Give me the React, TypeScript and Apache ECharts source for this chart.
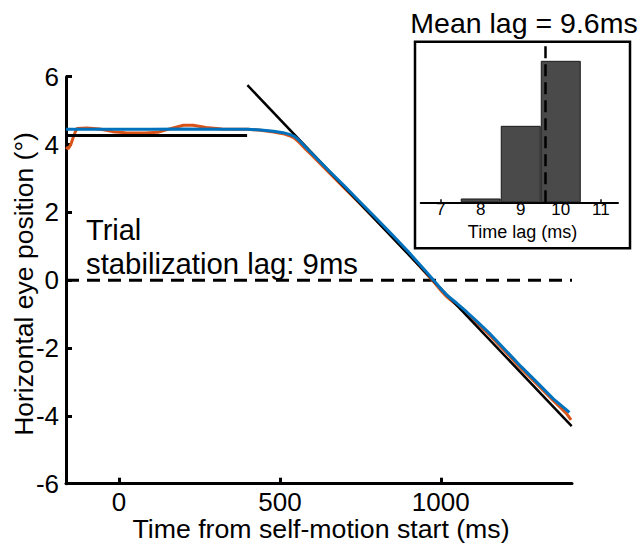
import React, { useEffect, useRef } from "react";
import * as echarts from "echarts";

const FONT = "'Liberation Sans', Arial, Helvetica, sans-serif";

// Main panel: time (ms) vs horizontal eye position (deg)
const xTickValues = [0, 500, 1000];

const blueTime = [-165, -100, 0, 100, 200, 300, 400, 440, 480, 510, 530, 545, 560, 580, 600, 650, 700, 750, 800, 850, 900, 950, 980, 1000, 1020, 1050, 1080, 1110, 1150, 1200, 1250, 1300, 1350, 1400];
const blueEye = [4.45, 4.45, 4.45, 4.45, 4.46, 4.45, 4.45, 4.43, 4.39, 4.35, 4.3, 4.24, 4.12, 3.92, 3.73, 3.25, 2.78, 2.3, 1.82, 1.33, 0.83, 0.3, -0.02, -0.25, -0.45, -0.68, -0.93, -1.19, -1.55, -2.05, -2.55, -3.02, -3.5, -3.9];

const orangeTime = [-165, -158, -150, -142, -135, -131, -100, -60, -20, 20, 80, 120, 160, 200, 230, 270, 320, 400, 440, 480, 510, 530, 545, 560, 580, 600, 650, 700, 750, 800, 850, 900, 950, 980, 1000, 1020, 1050, 1080, 1110, 1150, 1200, 1250, 1300, 1350, 1390, 1405];
const orangeEye = [3.92, 3.88, 4.0, 4.23, 4.4, 4.47, 4.49, 4.46, 4.38, 4.35, 4.34, 4.36, 4.47, 4.57, 4.57, 4.5, 4.46, 4.45, 4.42, 4.37, 4.32, 4.26, 4.19, 4.06, 3.86, 3.68, 3.2, 2.72, 2.25, 1.77, 1.28, 0.78, 0.25, -0.07, -0.3, -0.5, -0.73, -0.98, -1.24, -1.6, -2.1, -2.6, -3.07, -3.55, -3.92, -4.12];

const fitFlatTime = [-165, 398];
const fitFlatEye = [4.27, 4.27];
const fitSlopeTime = [399, 1407];
const fitSlopeEye = [5.75, -4.3];

const zeroTime = [-165, 1408];
const zeroEye = [0, 0];

// Inset histogram
const lagBins = [8, 9, 10];
const lagCounts = [1, 20, 37];
const lagTickValues = [7, 8, 9, 10, 11];
const meanLag = 9.6;

const zip = (xs: number[], ys: number[]) => xs.map((x, i) => [x, ys[i]]);

export default function App() {
  const ref = useRef<HTMLDivElement>(null);

  useEffect(() => {
    if (!ref.current) return;
    const chart = echarts.init(ref.current, undefined, { renderer: "svg" });

    const option: any = {
      animation: false,
      backgroundColor: "#ffffff",
      textStyle: { fontFamily: FONT, color: "#000" },
      grid: [
        { left: 66, right: 68, top: 76.7, bottom: 63.3, containLabel: false },
        { left: 420.7, width: 197.3, top: 41.7, height: 160.6, containLabel: false },
      ],
      xAxis: [
        {
          type: "value",
          gridIndex: 0,
          min: -165,
          max: 1408,
          axisLine: { show: true, onZero: false, lineStyle: { color: "#000", width: 3 } },
          axisTick: { show: true, inside: true, length: 6, customValues: xTickValues, lineStyle: { color: "#000", width: 3 } },
          axisLabel: {
            show: true,
            customValues: xTickValues,
            formatter: (v: number) => String(v),
            margin: 5,
            fontSize: 26,
            color: "#000",
            fontFamily: FONT,
          },
          splitLine: { show: false },
        },
        {
          type: "value",
          gridIndex: 1,
          min: 6.5,
          max: 11.43,
          axisLine: { show: true, onZero: false, lineStyle: { color: "#000", width: 2 } },
          axisTick: { show: true, inside: true, length: 3, customValues: lagTickValues, lineStyle: { color: "#000", width: 1.5 } },
          axisLabel: {
            show: true,
            customValues: lagTickValues,
            formatter: (v: number) => String(v),
            margin: -1,
            fontSize: 17,
            lineHeight: 16,
            color: "#000",
            fontFamily: FONT,
          },
          splitLine: { show: false },
        },
      ],
      yAxis: [
        {
          type: "value",
          gridIndex: 0,
          min: -6,
          max: 6,
          interval: 2,
          axisLine: { show: true, onZero: false, lineStyle: { color: "#000", width: 3 } },
          axisTick: { show: true, inside: true, length: 6, lineStyle: { color: "#000", width: 3 } },
          axisLabel: { show: true, margin: 7, fontSize: 26, color: "#000", fontFamily: FONT },
          splitLine: { show: false },
        },
        {
          type: "value",
          gridIndex: 1,
          min: 0,
          max: 42,
          show: false,
          splitLine: { show: false },
        },
      ],
      series: [
        {
          name: "zero",
          type: "line",
          xAxisIndex: 0,
          yAxisIndex: 0,
          data: zip(zeroTime, zeroEye),
          symbol: "none",
          silent: true,
          lineStyle: { color: "#000", width: 3, type: [13, 8] },
          z: 1,
        },
        {
          name: "Eye (orange)",
          type: "line",
          xAxisIndex: 0,
          yAxisIndex: 0,
          data: zip(orangeTime, orangeEye),
          symbol: "none",
          lineStyle: { color: "#D95319", width: 3 },
          z: 2,
        },
        {
          name: "Fit flat",
          type: "line",
          xAxisIndex: 0,
          yAxisIndex: 0,
          data: zip(fitFlatTime, fitFlatEye),
          symbol: "none",
          lineStyle: { color: "#000", width: 3 },
          z: 3,
        },
        {
          name: "Fit slope",
          type: "line",
          xAxisIndex: 0,
          yAxisIndex: 0,
          data: zip(fitSlopeTime, fitSlopeEye),
          symbol: "none",
          lineStyle: { color: "#000", width: 2.5 },
          z: 3,
        },
        {
          name: "Eye (blue)",
          type: "line",
          xAxisIndex: 0,
          yAxisIndex: 0,
          data: zip(blueTime, blueEye),
          symbol: "none",
          lineStyle: { color: "#0072BD", width: 3 },
          z: 4,
        },
        {
          name: "Lag histogram",
          type: "bar",
          xAxisIndex: 1,
          yAxisIndex: 1,
          data: zip(lagBins, lagCounts),
          barWidth: 40,
          itemStyle: { color: "#4a4a4a", borderColor: "#1a1a1a", borderWidth: 1 },
          markLine: {
            silent: true,
            symbol: "none",
            label: { show: false },
            lineStyle: { color: "#000", width: 2.5, type: [12, 6] },
            data: [[{ coord: [meanLag, 0] }, { coord: [meanLag, 40.8] }]],
          },
          z: 2,
        },
      ],
      graphic: [
        {
          type: "rect",
          shape: { x: 415, y: 41.7, width: 215, height: 206.6 },
          style: { fill: "none", stroke: "#000", lineWidth: 2.5 },
          silent: true,
        },
        {
          type: "text",
          x: 524,
          y: 22.5,
          style: { text: "Mean lag = 9.6ms", font: `28.5px ${FONT}`, fill: "#000", align: "center", verticalAlign: "middle" },
        },
        {
          type: "text",
          x: 522.5,
          y: 231.5,
          style: { text: "Time lag (ms)", font: `18px ${FONT}`, lineHeight: 16, fill: "#000", align: "center", verticalAlign: "middle" },
        },
        {
          type: "text",
          x: 86,
          y: 230,
          style: { text: "Trial", font: `29px ${FONT}`, fill: "#000", align: "left", verticalAlign: "middle" },
        },
        {
          type: "text",
          x: 86,
          y: 263,
          style: { text: "stabilization lag: 9ms", font: `29.3px ${FONT}`, fill: "#000", align: "left", verticalAlign: "middle" },
        },
        {
          type: "text",
          x: 321,
          y: 529,
          style: { text: "Time from self-motion start (ms)", font: `26.7px ${FONT}`, fill: "#000", align: "center", verticalAlign: "middle" },
        },
        {
          type: "text",
          x: 24,
          y: 284,
          rotation: Math.PI / 2,
          style: { text: "Horizontal eye position (°)", font: `26.5px ${FONT}`, fill: "#000", align: "center", verticalAlign: "middle" },
        },
      ],
    };

    chart.setOption(option);
    return () => chart.dispose();
  }, []);

  return (
    <div
      ref={ref}
      style={{ position: "fixed", left: 0, top: 0, width: 640, height: 547, background: "#fff" }}
    />
  );
}
